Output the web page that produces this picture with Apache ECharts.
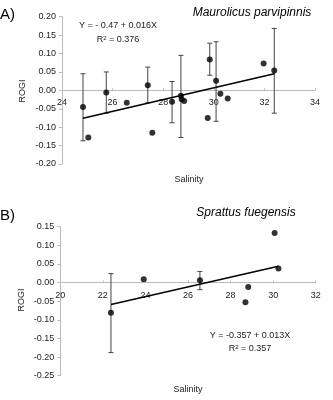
<!DOCTYPE html>
<html>
<head>
<meta charset="utf-8">
<script src="https://cdn.jsdelivr.net/npm/echarts@6/dist/echarts.min.js"></script>
<style>html,body{margin:0;padding:0;background:#fff;}#c{width:333px;height:400px;}</style>
</head>
<body>
<div id="c"></div>
<script>
// Panel A: Maurolicus parvipinnis
const mpX = [24.83, 25.04, 25.75, 26.56, 27.39, 27.57, 28.35, 28.70, 28.73, 28.83, 29.76, 29.84, 30.09, 30.26, 30.55, 31.97, 32.39];
const mpY = [-0.045, -0.128, -0.006, -0.034, 0.014, -0.115, -0.031, -0.015, -0.024, -0.029, -0.075, 0.084, 0.026, -0.009, -0.022, 0.073, 0.054];
const mpErrX = [24.83, 25.75, 27.39, 28.35, 28.70, 29.84, 30.09, 32.39];
const mpErrLow = [-0.137, -0.062, -0.034, -0.088, -0.128, 0.041, -0.084, -0.062];
const mpErrHigh = [0.045, 0.050, 0.063, 0.024, 0.095, 0.128, 0.132, 0.168];
const mpFitX = [24.83, 32.39];
const mpFitY = [-0.076, 0.045];
const mpXTicks = [24, 26, 28, 30, 32, 34];
const mpYTicks = [-0.20, -0.15, -0.10, -0.05, 0.00, 0.05, 0.10, 0.15, 0.20];

// Panel B: Sprattus fuegensis
const sfX = [22.38, 23.92, 26.56, 28.83, 28.70, 30.07, 30.25];
const sfY = [-0.081, 0.009, 0.006, -0.012, -0.053, 0.133, 0.038];
const sfErrX = [22.38, 26.56];
const sfErrLow = [-0.188, -0.019];
const sfErrHigh = [0.024, 0.030];
const sfFitX = [22.38, 30.25];
const sfFitY = [-0.059, 0.044];
const sfXTicks = [20, 22, 24, 26, 28, 30, 32];
const sfYTicks = [-0.25, -0.20, -0.15, -0.10, -0.05, 0.00, 0.05, 0.10, 0.15];

const FONT = 'Liberation Sans, Arial, sans-serif';
const zip = (a, b) => a.map((v, i) => [v, b[i]]);
const zip3 = (a, b, c) => a.map((v, i) => [v, b[i], c[i]]);
const fmtY = v => (Math.abs(v) < 1e-9 ? 0 : v).toFixed(2);

function errRender(params, api) {
  const x = api.value(0);
  const lo = api.coord([x, api.value(1)]);
  const hi = api.coord([x, api.value(2)]);
  const cw = 2.5;
  const st = { stroke: '#444', lineWidth: 1 };
  return {
    type: 'group',
    children: [
      { type: 'line', shape: { x1: lo[0], y1: lo[1], x2: hi[0], y2: hi[1] }, style: st },
      { type: 'line', shape: { x1: lo[0] - cw, y1: lo[1], x2: lo[0] + cw, y2: lo[1] }, style: st },
      { type: 'line', shape: { x1: hi[0] - cw, y1: hi[1], x2: hi[0] + cw, y2: hi[1] }, style: st }
    ]
  };
}

// plot grid geometry
const gA = { left: 62, top: 16.7, width: 253, height: 147.3 };
const gB = { left: 60.3, top: 226.7, width: 255.4, height: 149 };
// strip grid whose bottom edge sits on y = 0, to carry the visible x axis
function zeroStrip(g, yt) {
  const ymax = yt[yt.length - 1], ymin = yt[0];
  return { left: g.left, top: g.top, width: g.width, height: g.height * ymax / (ymax - ymin) };
}

function xAxisDef(gi, ticks, visible) {
  return {
    type: 'value', gridIndex: gi, position: 'bottom', show: visible,
    min: ticks[0], max: ticks[ticks.length - 1], interval: ticks[1] - ticks[0],
    axisLine: { show: true, onZero: false, lineStyle: { color: '#bbb', width: 1 } },
    axisTick: { show: true, inside: true, length: 2, lineStyle: { color: '#bbb' } },
    axisLabel: { color: '#222', fontSize: 9, fontFamily: FONT, margin: 8 },
    splitLine: { show: false }
  };
}
function yAxisDef(gi, ticks, visible) {
  return {
    type: 'value', gridIndex: gi, position: 'left', show: visible,
    min: ticks[0], max: ticks[ticks.length - 1], interval: 0.05,
    axisLine: { show: true, onZero: false, lineStyle: { color: '#bbb', width: 1 } },
    axisTick: { show: true, length: 3, lineStyle: { color: '#bbb' } },
    axisLabel: { color: '#222', fontSize: 9, fontFamily: FONT, margin: 6, formatter: fmtY },
    splitLine: { show: false }
  };
}

const chart = echarts.init(document.getElementById('c'), null, { renderer: 'canvas' });
chart.setOption({
  animation: false,
  backgroundColor: '#fff',
  grid: [gA, zeroStrip(gA, mpYTicks), gB, zeroStrip(gB, sfYTicks)],
  xAxis: [xAxisDef(0, mpXTicks, false), xAxisDef(1, mpXTicks, true), xAxisDef(2, sfXTicks, false), xAxisDef(3, sfXTicks, true)],
  yAxis: [yAxisDef(0, mpYTicks, true), yAxisDef(1, mpYTicks, false), yAxisDef(2, sfYTicks, true), yAxisDef(3, sfYTicks, false)],
  series: [
    { type: 'custom', xAxisIndex: 0, yAxisIndex: 0, renderItem: errRender, data: zip3(mpErrX, mpErrLow, mpErrHigh), z: 1 },
    { type: 'line', xAxisIndex: 0, yAxisIndex: 0, data: zip(mpFitX, mpFitY), showSymbol: false, symbol: 'none', lineStyle: { color: '#000', width: 1.5 }, z: 2 },
    { type: 'scatter', xAxisIndex: 0, yAxisIndex: 0, data: zip(mpX, mpY), symbolSize: 6, itemStyle: { color: '#000' }, z: 3 },
    { type: 'custom', xAxisIndex: 2, yAxisIndex: 2, renderItem: errRender, data: zip3(sfErrX, sfErrLow, sfErrHigh), z: 1 },
    { type: 'line', xAxisIndex: 2, yAxisIndex: 2, data: zip(sfFitX, sfFitY), showSymbol: false, symbol: 'none', lineStyle: { color: '#000', width: 1.5 }, z: 2 },
    { type: 'scatter', xAxisIndex: 2, yAxisIndex: 2, data: zip(sfX, sfY), symbolSize: 6, itemStyle: { color: '#000' }, z: 3 }
  ],
  graphic: [
    { type: 'text', left: 0, top: 7, style: { text: 'A)', font: '15px ' + FONT, fill: '#000' } },
    { type: 'text', left: 0, top: 208, style: { text: 'B)', font: '15px ' + FONT, fill: '#000' } },
    { type: 'text', x: 252, y: 13, style: { text: 'Maurolicus parvipinnis', font: 'italic 12px ' + FONT, fill: '#000', align: 'center', verticalAlign: 'middle' } },
    { type: 'text', x: 246, y: 213, style: { text: 'Sprattus fuegensis', font: 'italic 12px ' + FONT, fill: '#000', align: 'center', verticalAlign: 'middle' } },
    { type: 'text', x: 118, y: 26, style: { text: 'Y = - 0.47 + 0.016X', font: '9px ' + FONT, fill: '#222', align: 'center', verticalAlign: 'middle' } },
    { type: 'text', x: 118, y: 40, style: { rich: { a: { font: '9px ' + FONT, fill: '#222' }, s: { font: '6px ' + FONT, fill: '#222', verticalAlign: 'top', padding: [0,0,4,0] } }, text: '{a|R}{s|2}{a| = 0.376}', align: 'center', verticalAlign: 'middle' } },
    { type: 'text', x: 250, y: 336, style: { text: 'Y = -0.357 + 0.013X', font: '9px ' + FONT, fill: '#222', align: 'center', verticalAlign: 'middle' } },
    { type: 'text', x: 250, y: 349, style: { rich: { a: { font: '9px ' + FONT, fill: '#222' }, s: { font: '6px ' + FONT, fill: '#222', verticalAlign: 'top', padding: [0,0,4,0] } }, text: '{a|R}{s|2}{a| = 0.357}', align: 'center', verticalAlign: 'middle' } },
    { type: 'text', x: 23, y: 91, rotation: Math.PI / 2, style: { text: 'ROGI', font: '9px ' + FONT, fill: '#222', align: 'center', verticalAlign: 'middle' } },
    { type: 'text', x: 22, y: 300, rotation: Math.PI / 2, style: { text: 'ROGI', font: '9px ' + FONT, fill: '#222', align: 'center', verticalAlign: 'middle' } },
    { type: 'text', x: 189, y: 180, style: { text: 'Salinity', font: '9px ' + FONT, fill: '#222', align: 'center', verticalAlign: 'middle' } },
    { type: 'text', x: 188, y: 390, style: { text: 'Salinity', font: '9px ' + FONT, fill: '#222', align: 'center', verticalAlign: 'middle' } }
  ]
});
</script>
</body>
</html>
